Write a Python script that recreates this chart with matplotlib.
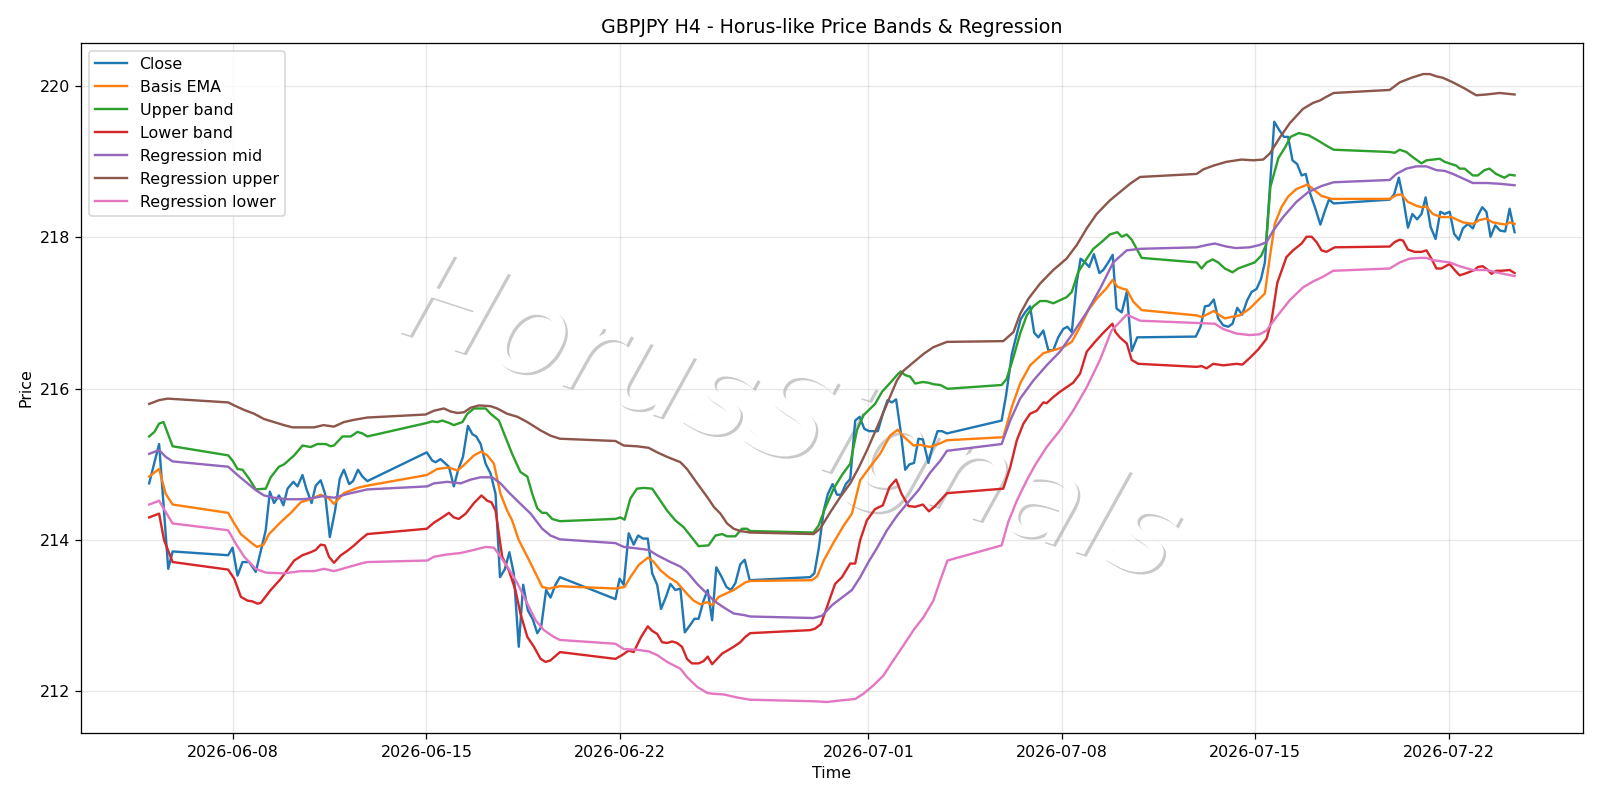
#!/usr/bin/env python3
"""
GBPJPY H4 chart with Horus-like price bands and a regression channel.
Values read off the reference picture; times are days after 2026-06-08 00:00.
"""

import numpy as np
import pandas as pd
import matplotlib
matplotlib.use("Agg")
import matplotlib.pyplot as plt
import matplotlib.patheffects as pe

BASE = pd.Timestamp("2026-06-08")

close_t = [-3.04, -2.68, -2.35, -2.19, -0.18, -0.02, 0.16, 0.34, 0.58, 0.82, 1.18, 1.33, 1.48,
           1.66, 1.82, 1.97, 2.18, 2.33, 2.51, 2.65, 2.84, 2.99, 3.17, 3.33, 3.50, 3.69, 3.86,
           4.01, 4.20, 4.34, 4.52, 4.68, 4.86, 7.01, 7.21, 7.33, 7.51, 7.81, 7.99, 8.14, 8.32,
           8.50, 8.66, 8.80, 8.96, 9.14, 9.32, 9.50, 9.66, 9.83, 10.00, 10.16, 10.34, 10.50,
           10.67, 10.85, 11.01, 11.15, 11.33, 11.49, 11.67, 11.83, 13.84, 13.99, 14.14, 14.32,
           14.50, 14.66, 14.84, 15.01, 15.17, 15.35, 15.49, 15.67, 15.83, 16.01, 16.19, 16.35,
           16.53, 16.70, 16.85, 17.03, 17.18, 17.34, 17.49, 17.66, 17.86, 18.02, 18.18, 18.36,
           18.52, 18.70, 20.89, 21.04, 21.20, 21.38, 21.53, 21.70, 21.86, 22.01, 22.18, 22.34,
           22.52, 22.68, 22.85, 23.03, 23.18, 23.34, 23.52, 23.69, 23.85, 24.00, 24.17, 24.33,
           24.48, 24.65, 24.81, 24.97, 25.17, 25.33, 25.50, 25.66, 25.84, 27.82, 27.98, 28.19,
           28.34, 28.51, 28.67, 28.85, 29.00, 29.15, 29.33, 29.51, 29.69, 29.87, 30.05, 30.20,
           30.36, 30.54, 30.68, 30.84, 30.99, 31.16, 31.36, 31.50, 31.68, 31.84, 31.98, 32.17,
           32.35, 32.53, 32.73, 34.85, 35.02, 35.18, 35.33, 35.50, 35.66, 35.84, 36.02, 36.18,
           36.35, 36.53, 36.71, 36.87, 37.05, 37.21, 37.35, 37.69, 37.87, 38.04, 38.19, 38.35,
           38.52, 38.68, 38.83, 39.00, 39.18, 39.36, 39.52, 39.67, 39.84, 41.87, 42.03, 42.20,
           42.35, 42.53, 42.69, 42.86, 43.02, 43.17, 43.35, 43.53, 43.70, 43.86, 44.04, 44.20,
           44.37, 44.52, 44.70, 44.88, 45.06, 45.22, 45.37, 45.52, 45.69, 45.87, 46.05, 46.21,
           46.39]
close_v = [214.75, 215.27, 213.62, 213.85, 213.80, 213.90, 213.53, 213.71, 213.71, 213.58, 214.13,
           214.64, 214.49, 214.59, 214.46, 214.68, 214.77, 214.71, 214.86, 214.68, 214.49, 214.72,
           214.79, 214.61, 214.04, 214.39, 214.81, 214.93, 214.74, 214.78, 214.93, 214.84, 214.78,
           215.16, 215.05, 215.03, 215.07, 214.97, 214.71, 214.92, 215.10, 215.51, 215.40, 215.37,
           215.27, 215.01, 214.88, 214.61, 213.51, 213.61, 213.84, 213.56, 212.59, 213.41, 213.07,
           212.95, 212.77, 212.85, 213.34, 213.24, 213.41, 213.51, 213.22, 213.49, 213.41, 214.09,
           213.94, 214.06, 214.02, 214.02, 213.56, 213.41, 213.09, 213.25, 213.42, 213.34, 213.36,
           212.78, 212.87, 212.96, 212.96, 213.20, 213.34, 212.94, 213.64, 213.53, 213.38, 213.34,
           213.43, 213.68, 213.74, 213.47, 213.51, 213.56, 213.89, 214.39, 214.61, 214.74, 214.60,
           214.60, 214.74, 214.81, 215.58, 215.63, 215.47, 215.44, 215.44, 215.44, 215.67, 215.85,
           215.82, 215.86, 215.43, 214.93, 215.00, 215.02, 215.34, 215.33, 215.02, 215.25, 215.44,
           215.44, 215.41, 215.58, 215.91, 216.46, 216.68, 216.92, 217.01, 217.09, 216.74, 216.68,
           216.77, 216.51, 216.51, 216.68, 216.79, 216.82, 216.75, 217.41, 217.72, 217.67, 217.61,
           217.78, 217.53, 217.57, 217.67, 217.77, 217.06, 217.01, 217.28, 216.50, 216.68, 216.69,
           216.82, 217.09, 217.10, 217.18, 216.93, 216.84, 216.82, 216.86, 217.07, 216.98, 217.17,
           217.28, 217.32, 217.45, 217.67, 219.53, 219.42, 219.33, 219.33, 219.02, 218.97, 218.82,
           218.84, 218.57, 218.38, 218.17, 218.35, 218.50, 218.45, 218.50, 218.57, 218.79, 218.53,
           218.13, 218.31, 218.24, 218.31, 218.53, 218.14, 217.98, 218.34, 218.31, 218.34, 218.05,
           217.97, 218.12, 218.18, 218.12, 218.29, 218.40, 218.34, 218.01, 218.16, 218.09, 218.08,
           218.38, 218.07]

ema_t = [-3.04, -2.68, -2.44, -2.19, -0.18, 0.04, 0.28, 0.64, 0.86, 1.10, 1.30, 1.73, 2.09, 2.45,
         2.87, 3.17, 3.47, 3.65, 4.01, 4.50, 4.86, 7.01, 7.39, 7.81, 8.12, 8.35, 8.72, 8.98, 9.20,
         9.44, 9.68, 9.92, 10.10, 10.34, 10.65, 10.95, 11.19, 11.43, 11.83, 13.84, 14.17, 14.38,
         14.68, 15.02, 15.23, 15.47, 15.77, 16.07, 16.43, 16.67, 16.92, 17.16, 17.34, 17.58, 17.82,
         18.12, 18.54, 18.72, 20.95, 21.14, 21.38, 21.74, 22.10, 22.40, 22.70, 23.06, 23.42, 23.78,
         24.06, 24.27, 24.63, 24.87, 25.23, 25.60, 25.84, 27.88, 28.19, 28.49, 28.85, 29.33, 29.69,
         30.05, 30.36, 30.66, 30.96, 31.26, 31.62, 31.84, 32.01, 32.22, 32.35, 32.59, 32.89, 34.88,
         35.06, 35.30, 35.50, 35.72, 35.90, 36.14, 36.44, 36.80, 37.10, 37.35, 37.53, 37.71, 37.95,
         38.19, 38.49, 38.89, 39.13, 39.40, 39.76, 41.87, 42.11, 42.29, 42.53, 42.83, 43.02, 43.20,
         43.43, 43.74, 44.10, 44.52, 44.88, 45.12, 45.36, 45.60, 45.90, 46.08, 46.21, 46.39]
ema_v = [214.84, 214.94, 214.61, 214.47, 214.36, 214.22, 214.08, 213.97, 213.91, 213.94, 214.08,
         214.24, 214.36, 214.50, 214.55, 214.60, 214.55, 214.48, 214.62, 214.69, 214.72, 214.86,
         214.94, 214.96, 214.92, 214.99, 215.12, 215.17, 215.12, 215.01, 214.61, 214.39, 214.26,
         214.00, 213.78, 213.56, 213.38, 213.36, 213.39, 213.36, 213.38, 213.51, 213.67, 213.77,
         213.71, 213.60, 213.51, 213.44, 213.29, 213.20, 213.15, 213.18, 213.14, 213.25, 213.29,
         213.34, 213.44, 213.46, 213.47, 213.52, 213.73, 213.97, 214.19, 214.35, 214.79, 214.97,
         215.14, 215.38, 215.46, 215.37, 215.25, 215.26, 215.23, 215.28, 215.32, 215.36, 215.76,
         216.07, 216.31, 216.47, 216.51, 216.55, 216.62, 216.82, 217.04, 217.19, 217.33, 217.44,
         217.35, 217.32, 217.31, 217.15, 217.04, 216.97, 216.95, 216.99, 217.03, 216.97, 216.93,
         216.95, 216.97, 217.06, 217.17, 217.26, 217.74, 218.18, 218.40, 218.54, 218.64, 218.70,
         218.63, 218.55, 218.51, 218.51, 218.56, 218.57, 218.47, 218.42, 218.40, 218.41, 218.31,
         218.27, 218.27, 218.20, 218.18, 218.23, 218.25, 218.20, 218.18, 218.17, 218.20, 218.18]

upper_t = [-3.04, -2.85, -2.68, -2.52, -2.19, -0.18, -0.02, 0.16, 0.34, 0.58, 0.82, 1.18, 1.36,
           1.66, 1.84, 2.21, 2.51, 2.81, 3.05, 3.35, 3.53, 3.65, 3.96, 4.26, 4.50, 4.68, 4.86,
           7.03, 7.21, 7.39, 7.57, 7.81, 7.99, 8.30, 8.48, 8.72, 9.14, 9.32, 9.62, 9.86, 10.10,
           10.40, 10.65, 10.83, 11.01, 11.19, 11.34, 11.55, 11.83, 13.84, 14.02, 14.17, 14.38,
           14.62, 14.86, 15.17, 15.41, 15.71, 16.01, 16.31, 16.55, 16.85, 17.21, 17.46, 17.70,
           17.88, 18.18, 18.42, 18.60, 18.72, 21.01, 21.19, 21.43, 21.74, 22.04, 22.34, 22.58,
           22.82, 23.13, 23.24, 23.49, 23.79, 24.03, 24.17, 24.33, 24.51, 24.69, 24.97, 25.17,
           25.35, 25.60, 25.86, 27.82, 28.00, 28.25, 28.49, 28.73, 28.97, 29.21, 29.45, 29.69,
           29.93, 30.17, 30.36, 30.59, 30.90, 31.14, 31.44, 31.74, 32.01, 32.17, 32.35, 32.53,
           32.89, 34.88, 35.06, 35.24, 35.46, 35.66, 35.90, 36.18, 36.38, 36.68, 36.98, 37.22,
           37.39, 37.55, 37.84, 38.08, 38.28, 38.58, 38.94, 39.28, 39.64, 39.84, 41.87, 42.05,
           42.23, 42.47, 42.71, 43.02, 43.20, 43.68, 43.86, 44.10, 44.28, 44.40, 44.58, 44.88,
           45.06, 45.30, 45.48, 45.72, 46.02, 46.21, 46.39]
upper_v = [215.37, 215.43, 215.54, 215.56, 215.24, 215.12, 215.05, 214.94, 214.93, 214.81, 214.67,
           214.68, 214.83, 214.97, 215.00, 215.12, 215.25, 215.23, 215.27, 215.27, 215.24, 215.25,
           215.37, 215.37, 215.43, 215.41, 215.37, 215.55, 215.57, 215.56, 215.58, 215.55, 215.52,
           215.56, 215.67, 215.74, 215.74, 215.67, 215.58, 215.36, 215.14, 214.90, 214.84, 214.61,
           214.42, 214.36, 214.36, 214.28, 214.25, 214.28, 214.30, 214.27, 214.55, 214.68, 214.69,
           214.68, 214.55, 214.39, 214.26, 214.17, 214.06, 213.92, 213.93, 214.06, 214.08, 214.05,
           214.05, 214.15, 214.15, 214.12, 214.10, 214.19, 214.42, 214.68, 214.86, 215.01, 215.45,
           215.65, 215.76, 215.80, 215.96, 216.08, 216.18, 216.23, 216.18, 216.16, 216.07, 216.09,
           216.08, 216.06, 216.05, 216.00, 216.05, 216.13, 216.42, 216.73, 216.97, 217.09, 217.16,
           217.16, 217.13, 217.17, 217.21, 217.28, 217.54, 217.72, 217.85, 217.94, 218.04, 218.07,
           218.01, 218.04, 217.97, 217.73, 217.67, 217.59, 217.67, 217.71, 217.67, 217.59, 217.54,
           217.59, 217.63, 217.67, 217.76, 217.90, 218.67, 219.05, 219.19, 219.33, 219.38, 219.35,
           219.28, 219.20, 219.16, 219.13, 219.12, 219.16, 219.13, 219.06, 218.98, 219.02, 219.04,
           219.00, 218.97, 218.95, 218.91, 218.91, 218.82, 218.82, 218.89, 218.91, 218.84, 218.79,
           218.83, 218.82]

lower_t = [-3.04, -2.68, -2.50, -2.19, -0.18, 0.04, 0.28, 0.52, 0.70, 0.88, 1.00, 1.36, 1.73,
           2.21, 2.51, 2.81, 2.99, 3.17, 3.32, 3.47, 3.65, 3.90, 4.14, 4.38, 4.62, 4.86, 7.01,
           7.27, 7.57, 7.81, 7.99, 8.17, 8.42, 8.72, 8.99, 9.20, 9.35, 9.50, 9.62, 9.74, 9.98,
           10.22, 10.40, 10.65, 10.89, 11.13, 11.31, 11.49, 11.83, 13.84, 14.08, 14.32, 14.50,
           14.77, 15.01, 15.17, 15.35, 15.53, 15.71, 15.89, 16.07, 16.25, 16.43, 16.61, 16.85,
           17.03, 17.18, 17.34, 17.52, 17.70, 17.94, 18.12, 18.36, 18.54, 18.72, 20.89, 21.07,
           21.28, 21.49, 21.79, 22.04, 22.34, 22.52, 22.70, 22.94, 23.24, 23.52, 23.76, 24.00,
           24.20, 24.45, 24.69, 24.97, 25.19, 25.41, 25.84, 27.88, 28.13, 28.37, 28.61, 28.85,
           29.09, 29.33, 29.45, 29.69, 29.93, 30.17, 30.41, 30.66, 30.90, 31.20, 31.50, 31.83,
           31.94, 32.10, 32.35, 32.53, 32.77, 34.88, 35.06, 35.24, 35.48, 35.84, 36.32, 36.54,
           36.81, 37.11, 37.41, 37.59, 37.80, 38.13, 38.37, 38.68, 38.86, 39.04, 39.22, 39.40,
           39.58, 39.88, 41.87, 42.05, 42.23, 42.35, 42.53, 42.77, 43.02, 43.20, 43.38, 43.56,
           43.74, 44.04, 44.22, 44.40, 44.58, 44.94, 45.06, 45.24, 45.42, 45.55, 45.73, 45.91,
           46.21, 46.39]
lower_v = [214.30, 214.35, 214.00, 213.71, 213.61, 213.49, 213.25, 213.20, 213.19, 213.16, 213.17,
           213.34, 213.49, 213.73, 213.80, 213.84, 213.87, 213.94, 213.93, 213.78, 213.70, 213.80,
           213.86, 213.93, 214.01, 214.08, 214.15, 214.23, 214.30, 214.36, 214.30, 214.28, 214.35,
           214.49, 214.59, 214.52, 214.50, 214.39, 214.08, 213.78, 213.60, 213.34, 213.03, 212.72,
           212.59, 212.43, 212.39, 212.41, 212.52, 212.43, 212.48, 212.54, 212.52, 212.72, 212.86,
           212.80, 212.76, 212.65, 212.64, 212.66, 212.64, 212.59, 212.43, 212.37, 212.37, 212.40,
           212.46, 212.36, 212.43, 212.50, 212.55, 212.59, 212.65, 212.72, 212.77, 212.81, 212.83,
           212.89, 213.11, 213.42, 213.51, 213.69, 213.69, 214.00, 214.26, 214.41, 214.46, 214.70,
           214.80, 214.61, 214.45, 214.44, 214.47, 214.38, 214.45, 214.62, 214.68, 214.96, 215.32,
           215.54, 215.67, 215.71, 215.82, 215.81, 215.89, 215.96, 216.02, 216.08, 216.20, 216.49,
           216.62, 216.74, 216.86, 216.75, 216.68, 216.60, 216.38, 216.33, 216.29, 216.30, 216.27,
           216.33, 216.31, 216.33, 216.32, 216.41, 216.52, 216.66, 216.90, 217.40, 217.74, 217.83,
           217.92, 218.01, 218.01, 217.94, 217.83, 217.81, 217.87, 217.88, 217.94, 217.97, 217.96,
           217.84, 217.81, 217.81, 217.83, 217.72, 217.59, 217.59, 217.65, 217.57, 217.50, 217.52,
           217.57, 217.61, 217.62, 217.57, 217.52, 217.56, 217.56, 217.57, 217.53]

reg_mid_t = [-3.04, -2.68, -2.44, -2.19, -0.18, 0.16, 0.52, 0.82, 1.12, 1.48, 1.97, 2.45, 2.81,
             3.23, 3.65, 4.14, 4.74, 4.86, 7.03, 7.27, 7.75, 8.24, 8.60, 8.96, 9.38, 9.68, 9.98,
             10.40, 10.77, 11.19, 11.49, 11.83, 13.84, 14.14, 14.62, 15.04, 15.35, 15.83, 16.19,
             16.43, 16.80, 17.16, 17.40, 17.76, 18.12, 18.48, 18.72, 21.01, 21.32, 21.68, 22.04,
             22.40, 22.70, 23.00, 23.30, 23.67, 24.03, 24.39, 24.81, 25.23, 25.60, 25.84, 27.82,
             28.13, 28.49, 28.97, 29.45, 29.93, 30.41, 30.90, 31.38, 31.86, 32.35, 32.83, 34.88,
             35.24, 35.54, 35.96, 36.30, 36.80, 37.16, 37.41, 37.65, 38.01, 38.49, 38.92, 39.40,
             39.84, 41.87, 42.11, 42.47, 42.83, 43.20, 43.56, 43.86, 44.16, 44.52, 44.88, 45.37,
             45.85, 46.39]
reg_mid_v = [215.14, 215.19, 215.10, 215.04, 214.97, 214.86, 214.75, 214.66, 214.59, 214.56, 214.54,
             214.54, 214.55, 214.58, 214.56, 214.61, 214.66, 214.67, 214.71, 214.75, 214.77, 214.75,
             214.80, 214.83, 214.83, 214.75, 214.63, 214.48, 214.35, 214.15, 214.06, 214.01, 213.96,
             213.91, 213.89, 213.87, 213.80, 213.71, 213.65, 213.58, 213.42, 213.29, 213.20, 213.11,
             213.03, 213.01, 212.99, 212.97, 213.00, 213.14, 213.24, 213.34, 213.51, 213.71, 213.89,
             214.13, 214.32, 214.48, 214.66, 214.89, 215.05, 215.18, 215.27, 215.58, 215.87, 216.11,
             216.31, 216.49, 216.74, 217.01, 217.32, 217.67, 217.83, 217.85, 217.87, 217.90, 217.92,
             217.88, 217.86, 217.87, 217.90, 217.94, 218.09, 218.27, 218.47, 218.60, 218.68, 218.73,
             218.76, 218.84, 218.91, 218.94, 218.94, 218.89, 218.88, 218.84, 218.78, 218.72, 218.72,
             218.71, 218.69]

reg_up_t = [-3.04, -2.68, -2.37, -0.18, 0.04, 0.40, 0.76, 1.12, 1.48, 1.84, 2.15, 2.69, 2.93, 3.27,
            3.65, 4.01, 4.38, 4.86, 6.97, 7.27, 7.63, 7.87, 8.12, 8.36, 8.60, 8.90, 9.32, 9.56,
            9.92, 10.29, 10.65, 11.13, 11.49, 11.83, 13.84, 14.14, 14.62, 15.04, 15.35, 15.71,
            16.19, 16.43, 16.80, 17.16, 17.40, 17.64, 17.88, 18.12, 18.36, 18.72, 21.01, 21.25,
            21.62, 21.98, 22.34, 22.65, 22.95, 23.31, 23.67, 24.03, 24.27, 24.63, 24.99, 25.35,
            25.84, 27.88, 28.25, 28.49, 28.79, 29.21, 29.69, 30.17, 30.54, 30.90, 31.26, 31.74,
            32.17, 32.47, 32.83, 34.88, 35.12, 35.49, 35.96, 36.51, 36.93, 37.29, 37.53, 37.89,
            38.25, 38.73, 39.10, 39.34, 39.58, 39.84, 41.87, 42.23, 42.65, 43.08, 43.32, 43.56,
            43.80, 44.16, 44.58, 45.00, 45.37, 45.85, 46.39]
reg_up_v = [215.80, 215.85, 215.87, 215.82, 215.78, 215.72, 215.67, 215.60, 215.56, 215.52, 215.49,
            215.49, 215.49, 215.52, 215.50, 215.56, 215.59, 215.62, 215.66, 215.71, 215.74, 215.70,
            215.68, 215.69, 215.75, 215.78, 215.77, 215.74, 215.67, 215.63, 215.56, 215.45, 215.38,
            215.34, 215.31, 215.25, 215.24, 215.22, 215.16, 215.10, 215.03, 214.94, 214.75, 214.57,
            214.44, 214.35, 214.22, 214.15, 214.12, 214.10, 214.08, 214.15, 214.37, 214.57, 214.75,
            214.96, 215.19, 215.49, 215.80, 216.11, 216.24, 216.35, 216.46, 216.55, 216.62, 216.63,
            216.75, 216.99, 217.19, 217.39, 217.57, 217.72, 217.90, 218.12, 218.31, 218.49, 218.62,
            218.71, 218.80, 218.84, 218.90, 218.95, 219.00, 219.03, 219.02, 219.03, 219.11, 219.32,
            219.51, 219.70, 219.78, 219.81, 219.86, 219.91, 219.95, 220.05, 220.11, 220.16, 220.16,
            220.13, 220.11, 220.05, 219.97, 219.88, 219.89, 219.91, 219.89]

reg_lo_t = [-3.04, -2.68, -2.44, -2.19, -0.18, 0.10, 0.40, 0.82, 1.18, 1.84, 2.45, 2.93, 3.29, 3.65,
            4.14, 4.62, 4.86, 7.03, 7.27, 7.75, 8.24, 8.72, 9.14, 9.44, 9.68, 9.98, 10.29, 10.65,
            10.95, 11.25, 11.61, 11.83, 13.84, 14.14, 14.62, 15.04, 15.35, 15.71, 16.19, 16.43,
            16.80, 17.16, 17.34, 17.76, 18.24, 18.72, 21.01, 21.49, 21.98, 22.52, 22.82, 23.18,
            23.54, 23.90, 24.27, 24.63, 24.99, 25.35, 25.60, 25.86, 27.82, 28.06, 28.37, 28.73,
            29.03, 29.45, 29.93, 30.41, 30.90, 31.38, 31.80, 32.35, 32.83, 34.88, 35.54, 35.84,
            36.32, 36.80, 37.16, 37.41, 37.77, 38.25, 38.73, 39.10, 39.45, 39.82, 41.87, 42.23,
            42.59, 42.95, 43.20, 43.43, 44.04, 44.40, 44.88, 45.37, 45.85, 46.39]
reg_lo_v = [214.47, 214.52, 214.37, 214.22, 214.13, 213.95, 213.78, 213.62, 213.57, 213.56, 213.59,
            213.59, 213.62, 213.59, 213.64, 213.69, 213.71, 213.73, 213.78, 213.81, 213.83, 213.87,
            213.91, 213.90, 213.78, 213.62, 213.43, 213.16, 212.94, 212.81, 212.72, 212.68, 212.63,
            212.56, 212.55, 212.53, 212.48, 212.39, 212.30, 212.19, 212.06, 211.98, 211.97, 211.96,
            211.92, 211.89, 211.87, 211.86, 211.88, 211.90, 211.97, 212.08, 212.21, 212.41, 212.61,
            212.81, 212.98, 213.20, 213.47, 213.73, 213.93, 214.24, 214.52, 214.79, 214.99, 215.23,
            215.45, 215.71, 216.02, 216.38, 216.77, 216.98, 216.90, 216.87, 216.86, 216.79, 216.73,
            216.71, 216.72, 216.77, 216.95, 217.17, 217.34, 217.42, 217.48, 217.56, 217.59, 217.67,
            217.72, 217.73, 217.73, 217.70, 217.67, 217.62, 217.57, 217.57, 217.53, 217.49]

series = [
    ("Close", close_t, close_v),
    ("Basis EMA", ema_t, ema_v),
    ("Upper band", upper_t, upper_v),
    ("Lower band", lower_t, lower_v),
    ("Regression mid", reg_mid_t, reg_mid_v),
    ("Regression upper", reg_up_t, reg_up_v),
    ("Regression lower", reg_lo_t, reg_lo_v),
]


def to_times(days):
    return BASE + pd.to_timedelta(np.asarray(days), unit="D")


def main():
    fig, ax = plt.subplots(figsize=(14, 7))

    for label, t, v in series:
        ax.plot(to_times(t), v, label=label, linewidth=1.5)

    # watermark
    ax.text(0.472, 0.45, "HorusSignals", transform=ax.transAxes,
            fontsize=78, style="italic", color="white",
            rotation=-18, ha="center", va="center", zorder=0,
            path_effects=[pe.withSimplePatchShadow(offset=(1.5, -1.5))])

    ax.set_title("GBPJPY H4 - Horus-like Price Bands & Regression")
    ax.set_xlabel("Time")
    ax.set_ylabel("Price")
    ax.grid(True, alpha=0.3)
    ax.legend(loc="upper left")

    plt.tight_layout()
    fig.savefig("out.png", dpi=800 / 7)


if __name__ == "__main__":
    main()
